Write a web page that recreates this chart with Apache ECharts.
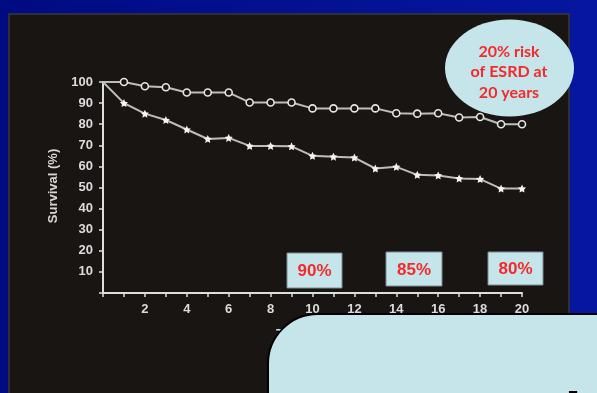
<!DOCTYPE html>
<html>
<head>
<meta charset="utf-8">
<style>
  html, body { margin: 0; padding: 0; background: #000c84; }
  #chart { width: 597px; height: 393px; }
</style>
<script src="https://cdn.jsdelivr.net/npm/echarts@6/dist/echarts.min.js"></script>
</head>
<body>
<div id="chart"></div>
<script>
// Follow-up years
const years = [0, 1, 2, 3, 4, 5, 6, 7, 8, 9, 10, 11, 12, 13, 14, 15, 16, 17, 18, 19, 20];
// Survival (%) of the two groups
const survivalUpper = [100, 100, 98, 97.5, 95, 95, 95, 90.3, 90.3, 90.3, 87.5, 87.5, 87.5, 87.5, 85.2, 85, 85.2, 83.2, 83.4, 80, 80];
const survivalLower = [100, 90, 85, 82, 77.5, 73, 73.5, 69.7, 69.7, 69.5, 65, 64.6, 64.2, 59, 59.8, 56, 55.7, 54.3, 54, 49.5, 49.5];
// Callout texts
const boxLabels = ['90%', '85%', '80%'];
const riskNote = ['20% risk', 'of ESRD at', '20 years'];
const yTitle = 'Survival (%)';
const xTitle = 'Time (years)';

const chart = echarts.init(document.getElementById('chart'), null, { renderer: 'canvas' });

const axisText = { color: '#dcdcdc', fontSize: 13, fontWeight: 'bold', fontFamily: 'Liberation Sans, Arial, sans-serif' };
const starPath = 'path://M0,-10L2.9,-4L9.5,-3.1L4.8,1.5L5.9,8.1L0,5L-5.9,8.1L-4.8,1.5L-9.5,-3.1L-2.9,-4Z';

// the curves start at the origin point without a marker
function toPoints(values) {
  return years.map((y, i) => (i === 0 ? { value: [y, values[i]], symbol: 'none' } : [y, values[i]]));
}

const boxes = [
  { x: 287, y: 253, w: 55, h: 35 },
  { x: 386, y: 252, w: 56, h: 34 },
  { x: 488, y: 252, w: 55, h: 33 }
];

const graphics = [
  // dark slide panel
  { type: 'rect', z: -20, silent: true,
    shape: { x: 9, y: 14, width: 560, height: 400 },
    style: { fill: '#191513', stroke: '#3a3832', lineWidth: 1.5 } },
  // y axis title
  { type: 'text', z: 5, x: 53, y: 186, rotation: Math.PI / 2,
    style: { text: yTitle, fill: '#d6d6d6', font: 'bold 13px "Liberation Sans", Arial, sans-serif',
             align: 'center', verticalAlign: 'middle' } },
  // x axis title
  { type: 'text', z: 5, x: 276, y: 334,
    style: { text: xTitle, fill: '#d6d6d6', font: 'bold 13px "Liberation Sans", Arial, sans-serif',
             align: 'left', verticalAlign: 'middle' } }
];

boxes.forEach((b, i) => {
  graphics.push({ type: 'rect', z: 50, shape: { x: b.x, y: b.y, width: b.w, height: b.h },
    style: { fill: '#c5e5ea', stroke: '#7d8d90', lineWidth: 1 } });
  graphics.push({ type: 'text', z: 51, x: b.x + b.w / 2, y: b.y + b.h / 2 + 1,
    style: { text: boxLabels[i], fill: '#f42a2a', font: 'bold 17px "Liberation Sans", Arial, sans-serif',
             align: 'center', verticalAlign: 'middle' } });
});

// risk ellipse
graphics.push({ type: 'ellipse', z: 50, shape: { cx: 509.5, cy: 68, rx: 64.5, ry: 48.5 },
  style: { fill: '#c5e5ea' } });
riskNote.forEach((t, i) => {
  graphics.push({ type: 'text', z: 51, x: 509, y: [52, 72, 93][i],
    style: { text: t, fill: '#f42a2a', font: 'bold 16px Lato, "Open Sans", sans-serif',
             align: 'center', verticalAlign: 'middle' } });
});

// large rounded panel in the lower right
graphics.push({ type: 'rect', z: 60, shape: { x: 268, y: 314, width: 400, height: 160, r: 50 },
  style: { fill: '#c5e5ea', stroke: '#000000', lineWidth: 2 } });
graphics.push({ type: 'text', z: 61, x: 573, y: 387,
  style: { text: 'l', fill: '#000000', font: 'bold 60px "Liberation Sans", Arial, sans-serif',
           align: 'center', verticalAlign: 'top' } });

chart.setOption({
  animation: false,
  backgroundColor: new echarts.graphic.LinearGradient(0, 0, 1, 0, [
    { offset: 0, color: '#000b82' }, { offset: 1, color: '#0616a0' }
  ]),
  grid: { left: 103, right: 75, top: 82, bottom: 100, containLabel: false },
  xAxis: {
    type: 'value', min: 0, max: 20, interval: 1,
    axisLine: { lineStyle: { color: '#dedede', width: 2 } },
    axisTick: { length: 4, lineStyle: { color: '#dedede', width: 1.5 } },
    axisLabel: Object.assign({ margin: 10, formatter: v => (v > 0 && v % 2 === 0 ? String(v) : '') }, axisText),
    splitLine: { show: false }
  },
  yAxis: {
    type: 'value', min: 0, max: 100, interval: 10,
    axisLine: { show: true, lineStyle: { color: '#dedede', width: 2 } },
    axisTick: { show: true, length: 4, lineStyle: { color: '#dedede', width: 1.5 } },
    axisLabel: Object.assign({ margin: 10, formatter: v => (v > 0 ? String(v) : '') }, axisText),
    splitLine: { show: false }
  },
  series: [
    {
      type: 'line', name: 'upper',
      data: toPoints(survivalUpper),
      symbol: 'circle', symbolSize: 7, showAllSymbol: true,
      itemStyle: { color: '#191513', borderColor: '#e6e6e6', borderWidth: 1.6 },
      lineStyle: { color: '#bdbdbd', width: 2 }
    },
    {
      type: 'line', name: 'lower',
      data: toPoints(survivalLower),
      symbol: starPath, symbolSize: 8, showAllSymbol: true,
      itemStyle: { color: '#f4f4f4' },
      lineStyle: { color: '#bdbdbd', width: 2 }
    }
  ],
  graphic: { elements: graphics }
});
</script>
</body>
</html>
